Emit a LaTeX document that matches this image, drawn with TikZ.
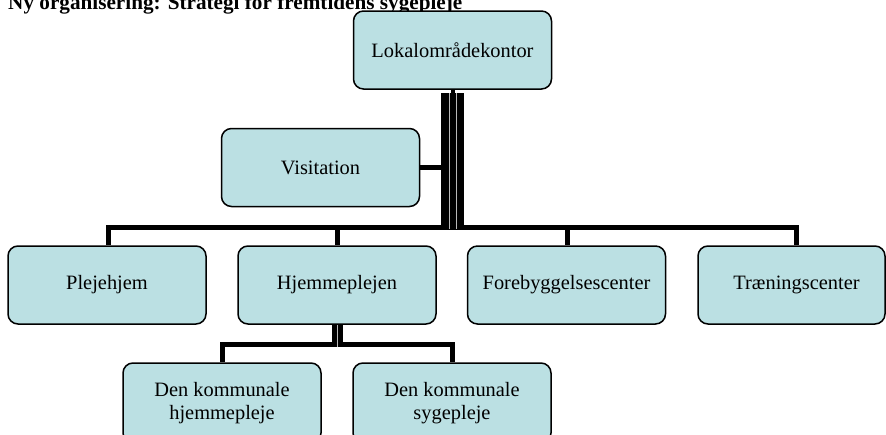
\documentclass[tikz,border=0pt]{standalone}
\usepackage{fontspec}
\setmainfont{Liberation Serif}
\usetikzlibrary{calc}
\definecolor{boxfill}{RGB}{187,224,227}
\begin{document}
\begin{tikzpicture}[x=1pt,y=-1pt,
  orgbox/.style={draw=black, line width=1.5pt, fill=boxfill, rounded corners=10pt,
    minimum width=198pt, minimum height=78pt, inner sep=0pt, align=center,
    font=\fontsize{20.4}{22.5}\selectfont},
  conn/.style={line width=5pt, line join=miter},
  trunkline/.style={line width=7.5pt},
  seam/.style={draw=gray!55, line width=0.5pt}]
\clip (0,0) rectangle (886,434);
\fill[white] (0,0) rectangle (886,434);
\node[anchor=base west, inner sep=0pt, font=\fontsize{21.2}{24}\selectfont\bfseries] (title) at (8,9) {Ny organisering: Strategi for fremtidens sygepleje};
\node[orgbox] (lok) at (452.5,50) {Lokalområdekontor};
\node[orgbox] (vis) at (320.5,167.5) {Visitation};
\node[orgbox] (plej) at (107,285) {Plejehjem};
\node[orgbox] (hjem) at (337,285) {Hjemmeplejen};
\node[orgbox] (fore) at (566.5,285) {Forebyggelsescenter};
\node[orgbox, minimum width=187pt] (trae) at (791.5,285) {\hspace*{10pt}Træningscenter};
\node[orgbox, minimum height=80pt] (dkh) at (222,403) {Den kommunale\\hjemmepleje};
\node[orgbox, minimum height=80pt] (dks) at (452,403) {Den kommunale\\sygepleje};
% bus coordinates
\coordinate (bus) at (452.5,227);
\coordinate (sub) at (337,344.2);
% Visitation connector
\draw[conn] (vis.east) -- (vis.east -| lok.south);
% bus to children
\draw[conn] (bus) -| ([xshift=1.5pt]plej.north);
\draw[conn] (bus) -| (hjem.north);
\draw[conn] (bus) -| ([xshift=1pt]fore.north);
\draw[conn] (bus) -| ([xshift=4.5pt]trae.north);
% trunk
\draw[line width=4pt] (lok.south) -- ++(0,4);
\foreach \dx in {-7.5,0,7.5}
  \draw[trunkline] ($(lok.south)+(\dx,3.5)$) -- ($(bus)+(\dx,2.3)$);
\draw[seam] ($(lok.south)+(-3.75,3.5)$) -- ($(bus)+(-3.75,2.3)$);
\draw[seam] ($(lok.south)+(3.75,3.5)$) -- ($(bus)+(3.75,2.3)$);
% sub bus
\draw[conn] (sub) -| (dkh.north);
\draw[conn] (sub) -| (dks.north);
\draw[line width=5.5pt] ([xshift=-2.75pt]hjem.south) -- ($(sub)+(-2.75,2.5)$);
\draw[line width=5.5pt] ([xshift=2.75pt]hjem.south) -- ($(sub)+(2.75,2.5)$);
\draw[seam] (hjem.south) -- ($(sub)+(0,2.5)$);
\end{tikzpicture}
\end{document}
